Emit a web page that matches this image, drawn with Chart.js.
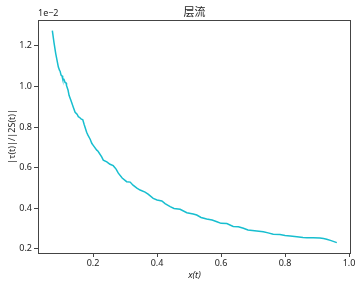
<!DOCTYPE html>
<html>
<head>
<meta charset="utf-8">
<script src="https://cdn.jsdelivr.net/npm/chart.js@4.4.1/dist/chart.umd.min.js"></script>
<style>
    html, body { margin: 0; padding: 0; background: #fff; }
    #wrap { width: 359px; height: 288px; }
</style>
</head>
<body>
<div id="wrap"><canvas id="chart" width="359" height="288"></canvas></div>
<script>
// 数据 (y 以 1e-2 为单位)
var xs = [0.0728, 0.078, 0.0834, 0.0875, 0.0916, 0.0953, 0.097, 0.100, 0.103, 0.105,
    0.109, 0.1125, 0.116, 0.117, 0.122, 0.125, 0.131, 0.134, 0.138, 0.144,
    0.150, 0.154, 0.159, 0.1625, 0.168, 0.172, 0.180, 0.184, 0.191, 0.196,
    0.200, 0.2116, 0.2156, 0.227, 0.232, 0.243, 0.253, 0.263, 0.272, 0.279,
    0.291, 0.305, 0.316, 0.325, 0.337, 0.347, 0.3625, 0.372, 0.388, 0.400,
    0.415, 0.425, 0.441, 0.453, 0.472, 0.493, 0.513, 0.524, 0.5375, 0.555,
    0.572, 0.587, 0.600, 0.618, 0.638, 0.654, 0.670, 0.684, 0.7116, 0.732,
    0.747, 0.763, 0.784, 0.800, 0.816, 0.837, 0.856, 0.868, 0.888, 0.909,
    0.920, 0.930, 0.944, 0.9616];
var ys = [1.275, 1.216, 1.162, 1.128, 1.095, 1.079, 1.076, 1.056, 1.052, 1.038,
    1.035, 1.020, 1.017, 1.005, 0.981, 0.956, 0.931, 0.917, 0.899, 0.873,
    0.863, 0.851, 0.846, 0.840, 0.836, 0.814, 0.774, 0.760, 0.740, 0.720,
    0.711, 0.686, 0.681, 0.653, 0.637, 0.629, 0.617, 0.610, 0.593, 0.573,
    0.549, 0.531, 0.529, 0.514, 0.499, 0.490, 0.480, 0.470, 0.449, 0.441,
    0.436, 0.423, 0.408, 0.399, 0.395, 0.378, 0.372, 0.367, 0.355, 0.347,
    0.342, 0.334, 0.326, 0.325, 0.311, 0.309, 0.302, 0.293, 0.288, 0.285,
    0.279, 0.272, 0.271, 0.266, 0.264, 0.260, 0.256, 0.255, 0.255, 0.254,
    0.251, 0.248, 0.241, 0.231];
var xTicks = [0.2, 0.4, 0.6, 0.8, 1.0];
var yTicks = [0.2, 0.4, 0.6, 0.8, 1.0, 1.2];

var titleText = '层流';
var xLabel = 'x(t)';
var yLabel = '|τ(t)|/|2S(t)|';
var offsetText = '1e\u22122';

var tickFont = { family: "'Noto Sans', 'DejaVu Sans', sans-serif", size: 9 };

var points = xs.map(function (x, i) {
    return { x: x, y: ys[i] };
});

// 边框和文字
var framePlugin = {
    id: 'frame',
    afterDraw: function (chart) {
        var ctx = chart.ctx;
        var a = chart.chartArea;
        ctx.save();
        ctx.strokeStyle = '#444';
        ctx.lineWidth = 1;
        ctx.strokeRect(Math.round(a.left) + 0.5, Math.round(a.top) + 0.5,
            Math.round(a.right - a.left) - 1, Math.round(a.bottom - a.top));

        var cx = (a.left + a.right) / 2;
        ctx.fillStyle = '#222';
        ctx.textAlign = 'center';
        ctx.textBaseline = 'middle';
        ctx.font = "11px 'Noto Sans CJK SC', sans-serif";
        ctx.fillText(titleText, cx, 12);

        ctx.font = "italic 9px 'Noto Sans', 'DejaVu Sans', sans-serif";
        ctx.fillText(xLabel, cx, 275);

        ctx.font = "9px 'Noto Sans', 'DejaVu Sans', sans-serif";
        ctx.textAlign = 'left';
        ctx.fillText(offsetText, a.left, 13);

        ctx.save();
        ctx.translate(12, (a.top + a.bottom) / 2);
        ctx.rotate(-Math.PI / 2);
        ctx.textAlign = 'center';
        ctx.fillText(yLabel, 0, 0);
        ctx.restore();
        ctx.restore();
    }
};

var ctx = document.getElementById('chart').getContext('2d');
window.myChart = new Chart(ctx, {
    type: 'line',
    data: {
        datasets: [{
            data: points,
            borderColor: '#17becf',
            borderWidth: 1.5,
            pointRadius: 0,
            fill: false,
            tension: 0
        }]
    },
    options: {
        responsive: false,
        animation: false,
        layout: { padding: { left: 0, top: 20, right: 8, bottom: 0 } },
        plugins: {
            legend: { display: false },
            tooltip: { enabled: false }
        },
        scales: {
            x: {
                type: 'linear',
                min: 0.028,
                max: 1.006,
                afterBuildTicks: function (scale) {
                    scale.ticks = xTicks.map(function (v) { return { value: v }; });
                },
                afterFit: function (scale) { scale.height = 35; },
                grid: { drawOnChartArea: false, tickLength: 4, color: '#444' },
                border: { display: false },
                ticks: {
                    font: tickFont,
                    color: '#222',
                    padding: 1,
                    maxRotation: 0,
                    callback: function (v) { return v.toFixed(1); }
                }
            },
            y: {
                type: 'linear',
                min: 0.18,
                max: 1.327,
                afterBuildTicks: function (scale) {
                    scale.ticks = yTicks.map(function (v) { return { value: v }; });
                },
                afterFit: function (scale) { scale.width = 38; },
                grid: { drawOnChartArea: false, tickLength: 4, color: '#444' },
                border: { display: false },
                ticks: {
                    font: tickFont,
                    color: '#222',
                    padding: 2,
                    callback: function (v) { return v.toFixed(1); }
                }
            }
        }
    },
    plugins: [framePlugin]
});
</script>
</body>
</html>
